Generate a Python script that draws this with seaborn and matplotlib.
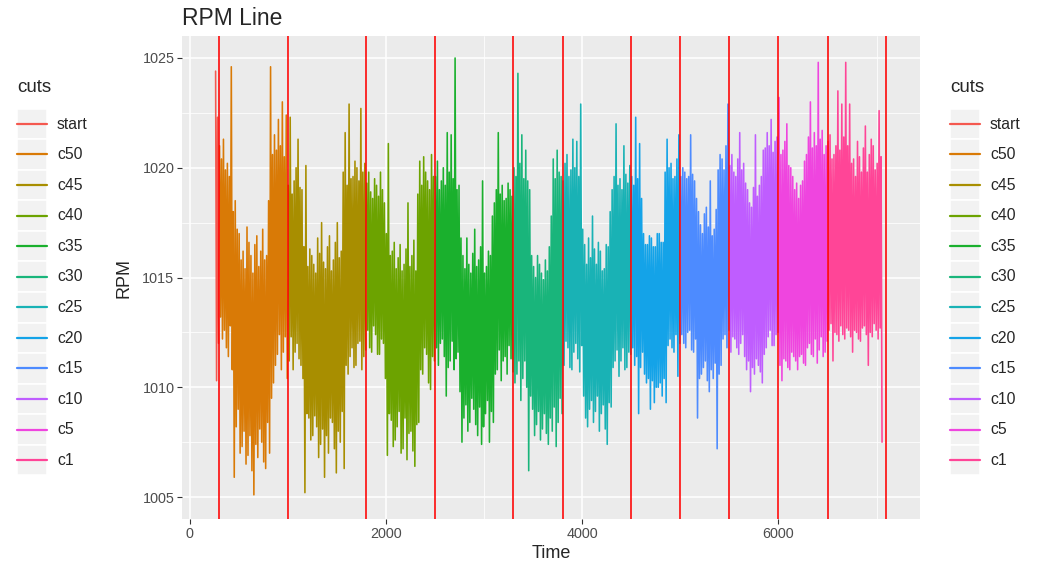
"""RPM line chart, coloured by cut segment, with red cut markers and twin legends."""
import numpy as np
import pandas as pd
import seaborn as sns
import matplotlib.pyplot as plt
from matplotlib.legend_handler import HandlerLine2D
from matplotlib.lines import Line2D
from matplotlib.patches import Rectangle

# ---- data ----
# each segment: band-top readings (hi, at t = 265 + 20k) and band-bottom
# readings (lo, 10 time units later)
cut_levels = ["start", "c50", "c45", "c40", "c35", "c30",
              "c25", "c20", "c15", "c10", "c5", "c1"]
cut_breaks = [300, 1000, 1800, 2500, 3300, 3800, 4500, 5000, 5500, 6000, 6500, 7100]
hue_colors = ["#F4584F", "#D97A06", "#A88E00", "#6CA300", "#1AB02D", "#19B57B",
              "#19B2B5", "#14A3E8", "#4D8BFF", "#BF5DFF", "#EF45DF", "#FF4597"]

time_first, time_step = 265, 20

hi_start = [1024.4, 1022.3]
lo_start = [1010.3, 1012.0]
hi_c50 = [1021.0, 1020.4, 1021.3, 1019.9, 1020.2, 1019.6, 1024.6, 1018.0, 1018.5, 1017.2,
          1017.0, 1015.8, 1016.2, 1015.4, 1017.3, 1016.6, 1016.0, 1015.2, 1016.5, 1016.9,
          1015.5, 1016.2, 1017.2, 1015.8, 1016.0, 1018.5, 1024.6, 1020.6, 1021.5, 1020.8,
          1022.2, 1021.0, 1023.0, 1020.5, 1022.4]
lo_c50 = [1013.2, 1012.2, 1012.6, 1011.8, 1011.4, 1012.8, 1010.8, 1005.9, 1008.2, 1009.0,
          1007.0, 1007.3, 1008.0, 1006.5, 1006.9, 1007.8, 1006.2, 1005.1, 1007.4, 1006.8,
          1008.1, 1007.5, 1006.6, 1006.3, 1008.4, 1007.0, 1009.5, 1010.2, 1011.0, 1011.5,
          1012.4, 1010.8, 1011.6, 1012.3, 1010.4]
hi_c45 = [1019.2, 1022.3, 1018.8, 1019.4, 1020.0, 1021.3, 1019.1, 1019.0, 1016.4, 1020.1,
          1015.5, 1016.3, 1016.0, 1015.6, 1015.2, 1016.8, 1016.1, 1017.5, 1015.7, 1015.4,
          1016.4, 1016.9, 1015.3, 1015.8, 1016.6, 1017.5, 1015.9, 1016.2, 1019.8, 1021.6,
          1019.2, 1022.9, 1019.5, 1019.6, 1020.3, 1020.0, 1019.4, 1022.7, 1019.8, 1020.2]
lo_c45 = [1011.2, 1012.3, 1010.8, 1011.6, 1012.0, 1011.3, 1011.0, 1010.4, 1005.2, 1008.8,
          1008.6, 1007.6, 1007.8, 1008.7, 1008.2, 1006.8, 1007.4, 1008.1, 1005.9, 1007.8,
          1007.0, 1008.6, 1008.4, 1007.2, 1006.1, 1008.0, 1007.5, 1008.9, 1006.3, 1011.0,
          1010.6, 1011.4, 1011.8, 1010.9, 1011.0, 1012.0, 1012.1, 1010.8, 1011.4, 1011.7]
hi_c40 = [1019.3, 1019.8, 1018.9, 1018.6, 1019.5, 1019.2, 1018.7, 1019.8, 1019.0, 1018.4,
          1017.0, 1021.1, 1016.0, 1016.2, 1016.6, 1015.4, 1015.9, 1016.5, 1015.3, 1015.6,
          1016.3, 1018.4, 1015.5, 1016.0, 1016.7, 1015.3, 1018.8, 1020.3, 1019.2, 1020.5,
          1019.8, 1019.4, 1019.0, 1020.6, 1019.6]
lo_c40 = [1012.6, 1011.8, 1011.6, 1012.8, 1012.4, 1011.5, 1011.5, 1012.2, 1012.0, 1010.4,
          1006.9, 1008.8, 1008.5, 1007.3, 1007.6, 1008.2, 1008.9, 1007.0, 1007.2, 1008.6,
          1006.7, 1007.9, 1008.0, 1007.1, 1006.4, 1008.3, 1008.4, 1010.8, 1010.6, 1011.8,
          1011.5, 1010.2, 1009.9, 1011.4, 1011.2]
hi_c35 = [1019.6, 1020.3, 1019.0, 1019.4, 1020.0, 1019.2, 1021.6, 1019.8, 1021.5, 1019.5,
          1025.0, 1019.0, 1019.2, 1016.8, 1016.0, 1015.4, 1016.8, 1015.6, 1015.2, 1016.1,
          1017.2, 1015.5, 1015.8, 1016.4, 1019.4, 1015.2, 1015.5, 1016.2, 1016.0, 1017.8,
          1018.4, 1019.0, 1021.6, 1018.8, 1019.2, 1018.5, 1018.6, 1019.3, 1019.0, 1018.7]
lo_c35 = [1011.8, 1011.0, 1012.0, 1012.2, 1011.4, 1009.6, 1010.9, 1011.2, 1012.1, 1010.8,
          1011.3, 1011.6, 1009.8, 1007.5, 1008.6, 1009.2, 1008.0, 1008.4, 1009.5, 1009.0,
          1008.3, 1007.8, 1009.1, 1007.4, 1008.2, 1008.8, 1009.4, 1007.5, 1008.9, 1008.4,
          1010.6, 1010.8, 1011.7, 1010.3, 1011.2, 1011.4, 1010.6, 1011.9, 1011.3, 1010.7]
hi_c30 = [1020.0, 1019.6, 1024.3, 1020.2, 1021.5, 1019.5, 1020.8, 1019.4, 1019.0, 1016.0,
          1015.5, 1015.0, 1016.0, 1015.6, 1015.2, 1014.9, 1015.8, 1015.3, 1016.4, 1017.8,
          1020.4, 1019.5, 1020.8, 1019.8, 1019.6]
lo_c30 = [1010.2, 1010.6, 1011.2, 1009.4, 1010.4, 1011.2, 1010.0, 1006.2, 1009.6, 1009.0,
          1007.8, 1008.3, 1008.9, 1007.6, 1008.1, 1008.8, 1007.9, 1007.4, 1008.6, 1008.0,
          1009.1, 1007.3, 1008.4, 1009.5, 1008.8]
hi_c25 = [1019.4, 1020.2, 1020.6, 1019.6, 1019.9, 1021.3, 1020.0, 1021.2, 1019.6, 1022.9,
          1017.2, 1016.5, 1015.6, 1016.8, 1015.9, 1017.8, 1016.3, 1015.6, 1016.6, 1016.2,
          1015.3, 1015.4, 1016.5, 1016.4, 1018.0, 1019.0, 1019.6, 1022.0, 1019.2, 1019.5,
          1019.0, 1021.0, 1019.7, 1019.3, 1020.1]
lo_c25 = [1011.0, 1012.1, 1011.8, 1010.9, 1010.8, 1011.6, 1012.0, 1011.3, 1010.7, 1011.9,
          1009.6, 1008.6, 1008.2, 1009.0, 1009.4, 1008.4, 1008.9, 1009.6, 1008.0, 1008.8,
          1009.2, 1008.1, 1007.4, 1009.3, 1009.1, 1010.9, 1011.2, 1011.7, 1010.5, 1011.2,
          1011.8, 1010.8, 1010.9, 1011.6, 1011.5]
hi_c20 = [1019.6, 1019.2, 1022.3, 1019.5, 1021.1, 1018.6, 1017.0, 1016.5, 1016.5, 1016.9,
          1016.8, 1016.4, 1016.4, 1017.0, 1017.0, 1016.6, 1016.6, 1019.8, 1021.3, 1020.0,
          1020.2, 1019.5, 1019.6, 1020.4, 1021.5]
lo_c20 = [1011.8, 1011.0, 1011.4, 1008.8, 1010.9, 1011.6, 1010.6, 1010.2, 1010.4, 1009.0,
          1010.3, 1009.3, 1010.0, 1010.0, 1010.2, 1009.6, 1010.4, 1009.3, 1011.9, 1012.2,
          1011.8, 1011.6, 1012.4, 1010.5, 1012.0]
hi_c15 = [1019.6, 1020.0, 1019.8, 1019.5, 1019.6, 1021.5, 1019.7, 1019.4, 1018.6, 1018.0,
          1017.4, 1017.0, 1017.9, 1018.2, 1017.3, 1019.4, 1016.9, 1017.2, 1018.1, 1019.9,
          1020.6, 1020.4, 1019.9, 1021.0, 1022.9]
lo_c15 = [1012.4, 1012.0, 1011.8, 1012.5, 1012.6, 1011.7, 1011.6, 1012.2, 1008.6, 1010.4,
          1010.6, 1010.9, 1011.2, 1010.3, 1009.8, 1010.8, 1010.4, 1011.1, 1007.2, 1010.6,
          1011.0, 1012.2, 1012.4, 1011.8, 1012.6]
hi_c10 = [1020.1, 1020.6, 1019.8, 1019.6, 1020.4, 1021.6, 1019.9, 1020.2, 1019.3, 1019.0,
          1018.4, 1018.2, 1019.1, 1021.5, 1018.7, 1019.2, 1019.6, 1020.8, 1020.9, 1021.6,
          1021.0, 1022.2, 1020.7, 1021.2, 1021.4]
lo_c10 = [1011.6, 1012.3, 1012.2, 1011.8, 1011.5, 1012.0, 1012.4, 1011.4, 1010.8, 1011.2,
          1009.8, 1010.9, 1010.6, 1011.3, 1011.0, 1010.7, 1010.2, 1011.5, 1011.8, 1012.3,
          1012.6, 1011.9, 1011.9, 1012.4, 1012.5]
hi_c5 = [1023.2, 1020.6, 1020.8, 1021.2, 1022.0, 1020.1, 1020.0, 1019.6, 1019.0, 1019.3,
         1018.6, 1019.2, 1019.4, 1020.3, 1020.6, 1021.4, 1023.0, 1020.9, 1021.6, 1021.0,
         1024.8, 1021.3, 1021.7, 1020.6, 1021.0]
lo_c5 = [1011.0, 1010.3, 1011.3, 1011.2, 1010.9, 1010.8, 1011.6, 1011.4, 1011.2, 1010.8,
         1011.4, 1011.5, 1011.1, 1011.0, 1011.8, 1012.0, 1011.5, 1011.4, 1012.2, 1011.1,
         1011.7, 1012.3, 1011.4, 1011.6, 1012.1]
hi_c1 = [1021.2, 1021.5, 1020.4, 1020.6, 1021.0, 1023.5, 1020.8, 1022.9, 1021.4, 1024.8,
         1021.0, 1022.9, 1020.2, 1020.4, 1019.6, 1021.2, 1020.5, 1019.8, 1020.9, 1021.9,
         1019.8, 1020.6, 1021.3, 1021.0, 1019.9, 1020.2, 1022.6, 1020.5]
lo_c1 = [1012.6, 1012.9, 1011.2, 1012.5, 1012.4, 1012.1, 1012.8, 1012.4, 1012.2, 1012.7,
         1012.6, 1012.3, 1011.6, 1012.6, 1012.5, 1012.2, 1012.1, 1012.7, 1012.8, 1012.4,
         1011.0, 1012.5, 1012.3, 1012.9, 1012.6, 1012.2, 1012.7, 1007.5]

rpm_hi = (hi_start + hi_c50 + hi_c45 + hi_c40 + hi_c35 + hi_c30
          + hi_c25 + hi_c20 + hi_c15 + hi_c10 + hi_c5 + hi_c1)
rpm_lo = (lo_start + lo_c50 + lo_c45 + lo_c40 + lo_c35 + lo_c30
          + lo_c25 + lo_c20 + lo_c15 + lo_c10 + lo_c5 + lo_c1)
time_hi = time_first + time_step * np.arange(len(rpm_hi))
time_lo = time_hi + time_step // 2

dfrm = pd.DataFrame({"Time": np.concatenate([time_hi, time_lo]),
                     "RPM": rpm_hi + rpm_lo}).sort_values("Time")
dfrm["cuts"] = [cut_levels[i] for i in np.searchsorted(cut_breaks, dfrm["Time"], side="right")]


class KeyLine(HandlerLine2D):
    """Legend line centred in the grey key box."""
    def create_artists(self, legend, orig_handle, xdescent, ydescent,
                       width, height, fontsize, trans):
        arts = super().create_artists(legend, orig_handle, xdescent, ydescent,
                                      width, height, fontsize, trans)
        for art in arts:
            art.set_ydata(np.full(len(art.get_ydata()), height / 2 - ydescent))
        return arts


# ---- style ----
sns.set_style("darkgrid", {"axes.facecolor": "#EBEBEB", "grid.color": "white",
                           "axes.edgecolor": "#EBEBEB"})
plt.rcParams["font.family"] = ["Liberation Sans", "DejaVu Sans"]

fig = plt.figure(figsize=(10.39, 5.66), dpi=100)
ax = fig.add_axes([0.1752, 0.0830, 0.7103, 0.8534])

sns.lineplot(data=dfrm, x="Time", y="RPM", hue="cuts", hue_order=cut_levels,
             palette=hue_colors, estimator=None, legend=False, lw=1.15, ax=ax)
for brk in cut_breaks:
    ax.axvline(brk, color="red", lw=1.15, zorder=3)

ax.set_xlim(-77, 7442)
ax.set_ylim(1004, 1026)
ax.set_xticks([0, 2000, 4000, 6000])
ax.set_xticks([1000, 3000, 5000, 7000], minor=True)
ax.set_yticks([1005, 1010, 1015, 1020, 1025])
ax.set_yticks([1007.5, 1012.5, 1017.5, 1022.5], minor=True)
ax.grid(which="major", color="white", lw=1.1)
ax.grid(which="minor", color="white", lw=0.55)
ax.tick_params(which="major", length=3.5, width=0.8, color="#333333",
               labelsize=10.4, labelcolor="#4D4D4D", pad=2, bottom=True, left=True)
ax.tick_params(which="minor", length=0)
for side in ax.spines.values():
    side.set_visible(False)
ax.set_xlabel("Time", fontsize=13, labelpad=3)
ax.set_ylabel("RPM", fontsize=13, labelpad=7)
ax.set_title("RPM Line", loc="left", fontsize=16.5, pad=8)

# two identical legends, ggplot-like keys (grey box + coloured line)
handles = [(Rectangle((0, 0), 1, 1, facecolor="#F2F2F2", edgecolor="white", lw=1.2),
            Line2D([], [], color=c, lw=1.6)) for c in hue_colors]
for x_key in (17, 950):
    fig.text(x_key / 1039, 1 - 88 / 566, "cuts", fontsize=13.5, va="center", ha="left")
    fig.legend(handles, cut_levels, loc="upper left",
               bbox_to_anchor=(x_key / 1039, 1 - 108.5 / 566),
               frameon=False, borderpad=0, borderaxespad=0, fontsize=11.3,
               handlelength=1.91, handleheight=2.62, handletextpad=0.64,
               labelspacing=0, handler_map={Line2D: KeyLine()})

fig.savefig("out.png", dpi=100)
